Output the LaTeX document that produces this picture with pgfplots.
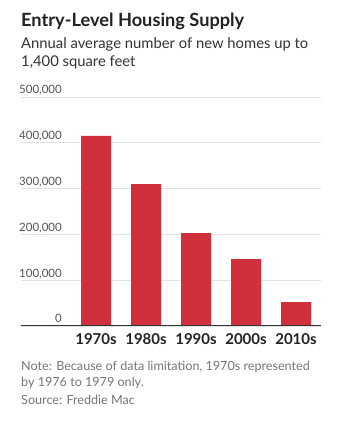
\documentclass[border=0pt]{standalone}
\usepackage{fontspec}
\setmainfont{Lato}
\usepackage{pgfplots}
\pgfplotsset{compat=1.18}
\definecolor{barred}{HTML}{D0303C}
\definecolor{gridgray}{HTML}{E2E2E2}
\definecolor{titlecol}{HTML}{222222}
\definecolor{subcol}{HTML}{333333}
\definecolor{tickcol}{HTML}{555555}
\definecolor{notecol}{HTML}{777777}
\begin{document}
\begin{tikzpicture}[x=1pt,y=1pt]
\useasboundingbox[fill=white] (0,0) rectangle (343,433);
% title block (y = 433 - pixel y)
\node[anchor=base west, inner sep=0pt, text=titlecol, font=\fontsize{18.2}{20}\selectfont\bfseries] at (21,406) {Entry-Level Housing Supply};
\node[anchor=base west, inner sep=0pt, text=subcol, font=\fontsize{14.8}{18}\selectfont] at (21,384) {Annual average number of new homes up to};
\node[anchor=base west, inner sep=0pt, text=subcol, font=\fontsize{14.8}{18}\selectfont] at (21,366) {1,400 square feet};
\begin{axis}[
  scale only axis,
  width=300pt, height=229pt,
  at={(21pt,107pt)}, anchor=south west,
  xmin=-1.5, xmax=4.5,
  ymin=0, ymax=500000,
  axis line style={draw=none},
  xtick={0,1,2,3,4},
  xticklabels={1970s,1980s,1990s,2000s,2010s},
  ytick={0,100000,200000,300000,400000,500000},
  yticklabels={0,{100,000},{200,000},{300,000},{400,000},{500,000}},
  major tick length=0pt,
  ymajorgrids,
  grid style={gridgray, line width=0.8pt},
  yticklabel style={anchor=base east, inner sep=0pt, xshift=41pt, yshift=3pt, text=tickcol, font=\fontsize{11.5}{13}\selectfont},
  xticklabel style={anchor=base, inner sep=0pt, yshift=-19pt, text=titlecol, font=\fontsize{15}{16}\selectfont\bfseries},
  scaled y ticks=false,
  clip=false,
]
\addplot[ybar, bar width=30pt, fill=barred, draw=none] coordinates {(0,415000) (1,310000) (2,203000) (3,146000) (4,52000)};
\draw[color=subcol, line width=1pt] (axis cs:-1.5,0) -- (axis cs:4.5,0);
\end{axis}
\node[anchor=base west, inner sep=0pt, text=notecol, font=\fontsize{12.6}{15}\selectfont] at (21,62) {Note: Because of data limitation, 1970s represented};
\node[anchor=base west, inner sep=0pt, text=notecol, font=\fontsize{12.6}{15}\selectfont] at (21,46) {by 1976 to 1979 only.};
\node[anchor=base west, inner sep=0pt, text=notecol, font=\fontsize{12.6}{15}\selectfont] at (21,28) {Source: Freddie Mac};
\end{tikzpicture}
\end{document}
